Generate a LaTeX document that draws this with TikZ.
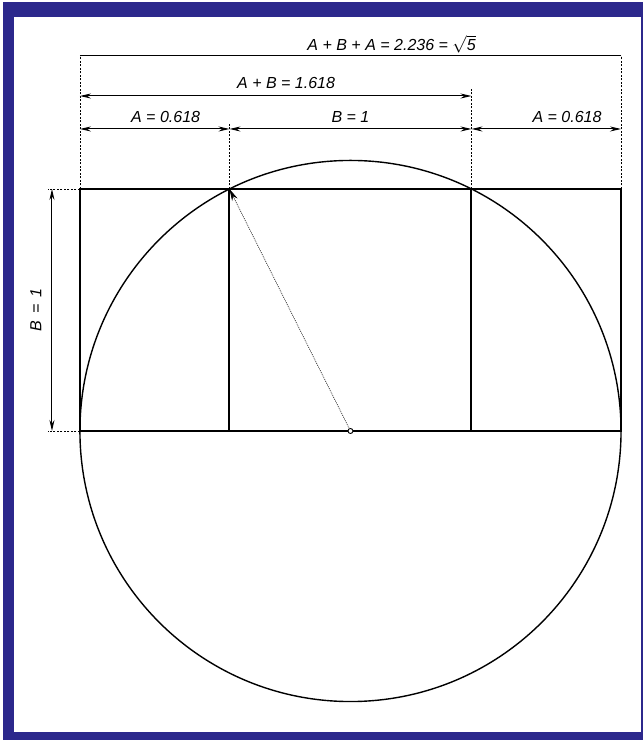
\documentclass[tikz,border=0pt]{standalone}
\usepackage{fontspec}
\setmainfont{Liberation Sans}
\usetikzlibrary{arrows.meta}
\definecolor{framecol}{RGB}{44,40,140}
\tikzset{
  dimline/.style={line width=1pt, {Stealth[length=11pt,width=5pt]}-{Stealth[length=11pt,width=5pt]}},
  extline/.style={line width=0.7pt, dash pattern=on 2pt off 1.5pt},
  heavyline/.style={line width=2pt},
  dimlabel/.style={font=\fontsize{16}{19}\selectfont\itshape, inner sep=0pt},
}
\begin{document}
\begin{tikzpicture}[x=242pt,y=242pt]
% frame
\useasboundingbox (-1.4483,-1.2769) rectangle (1.2087,1.7810);
\fill[framecol] (-1.4360,-1.2769) rectangle (1.2087,1.7727);
\fill[white] (-1.3905,-1.2438) rectangle (1.2004,1.7107);

% golden rectangle points
\coordinate (o) at (0,0);
\coordinate (bl) at (-1.118,0);
\coordinate (br) at (1.118,0);
\coordinate (tl) at (-1.118,1);
\coordinate (tr) at (1.118,1);
\coordinate (ml) at (-0.5,1);
\coordinate (mr) at (0.5,1);
\coordinate (mlb) at (-0.5,0);
\coordinate (mrb) at (0.5,0);

% dimension levels
\coordinate (lev1) at (0,1.5496);
\coordinate (lev2) at (0,1.3843);
\coordinate (lev3) at (0,1.248);
\coordinate (levL) at (-1.2335,0);
\coordinate (extL) at (-1.25,0);
\coordinate (extM) at (0,1.417);
\coordinate (extN) at (0,1.2686);

\draw[line width=1.4pt] (o) circle[radius=1.118];
\draw[heavyline] (bl) rectangle (tr);
\draw[heavyline] (ml) -- (mlb) (mr) -- (mrb);

% radius
\node[circle, draw, fill=white, inner sep=0pt, minimum size=5pt, line width=0.9pt] (c) at (o) {};
\draw[line width=0.6pt, dash pattern=on 1pt off 1pt, -{Stealth[length=12pt,width=6pt]}] (c) -- (ml);

% extension lines
\draw[extline] (tl) -- (tl |- lev1);
\draw[extline] (tr) -- (tr |- lev1);
\draw[extline] (mr) -- (mr |- extM);
\draw[extline] (ml) -- (ml |- extN);
\draw[extline] (tl) -- (tl -| extL);
\draw[extline] (bl) -- (bl -| extL);

% dimensions
\draw[line width=1pt] (tl |- lev1) -- (tr |- lev1);
\draw[dimline] (tl |- lev2) -- (mr |- lev2);
\draw[dimline] (tl |- lev3) -- (ml |- lev3);
\draw[dimline] (ml |- lev3) -- (mr |- lev3);
\draw[dimline] (mr |- lev3) -- (tr |- lev3);
\draw[dimline] (tl -| levL) -- (bl -| levL);

\node[dimlabel] (lAll) at (0.17,1.599) {A + B + A = 2.236 = $\sqrt{\mbox{5}}$};
\node[dimlabel] (lAB) at (-0.266,1.438) {A + B = 1.618};
\node[dimlabel] (lA1) at (-0.764,1.2975) {A = 0.618};
\node[dimlabel] (lB) at (0,1.2975) {B = 1};
\node[dimlabel] (lA2) at (0.895,1.2975) {A = 0.618};
\node[dimlabel, rotate=90] (lBv) at (-1.30,0.5) {B \,=\, 1};
\end{tikzpicture}
\end{document}
